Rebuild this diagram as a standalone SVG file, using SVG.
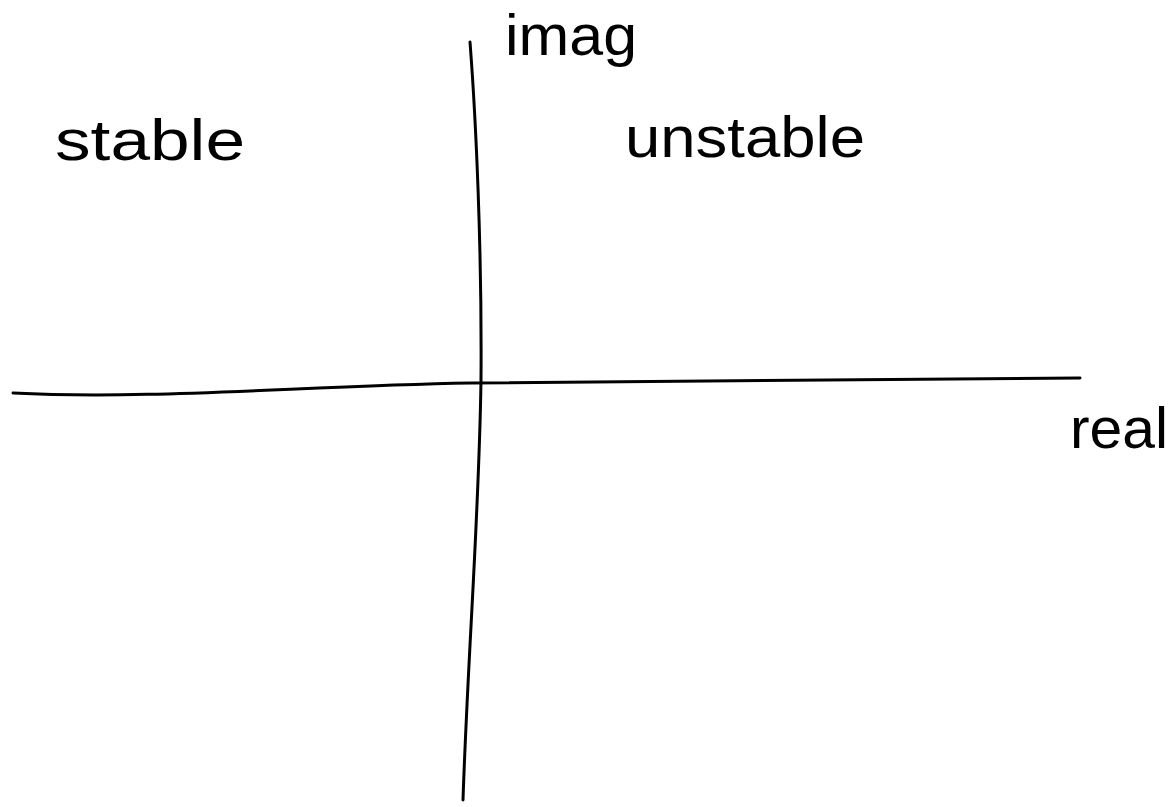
<svg xmlns="http://www.w3.org/2000/svg" width="1176" height="807" viewBox="0 0 1176 807">
<style>
.axis{fill:none;stroke:#000;stroke-width:3;stroke-linecap:round}
.lbl{font-family:"Liberation Sans",Arial,sans-serif;font-size:58px;fill:#000}
</style>
<rect width="1176" height="807" fill="#fff"/>
<path class="axis" d="M470,42 C476,120 482,250 481,380 C479,520 468,650 463,800"/>
<path class="axis" d="M13,393 C150,400 300,386 470,383 C700,380 900,380 1080,378"/>
<text class="lbl" x="55" y="160" textLength="190" lengthAdjust="spacingAndGlyphs">stable</text>
<text class="lbl" x="625" y="157" textLength="240" lengthAdjust="spacingAndGlyphs">unstable</text>
<text class="lbl" x="505" y="55" textLength="132" lengthAdjust="spacingAndGlyphs">imag</text>
<text class="lbl" x="1070" y="448" textLength="98" lengthAdjust="spacingAndGlyphs">real</text>
</svg>
